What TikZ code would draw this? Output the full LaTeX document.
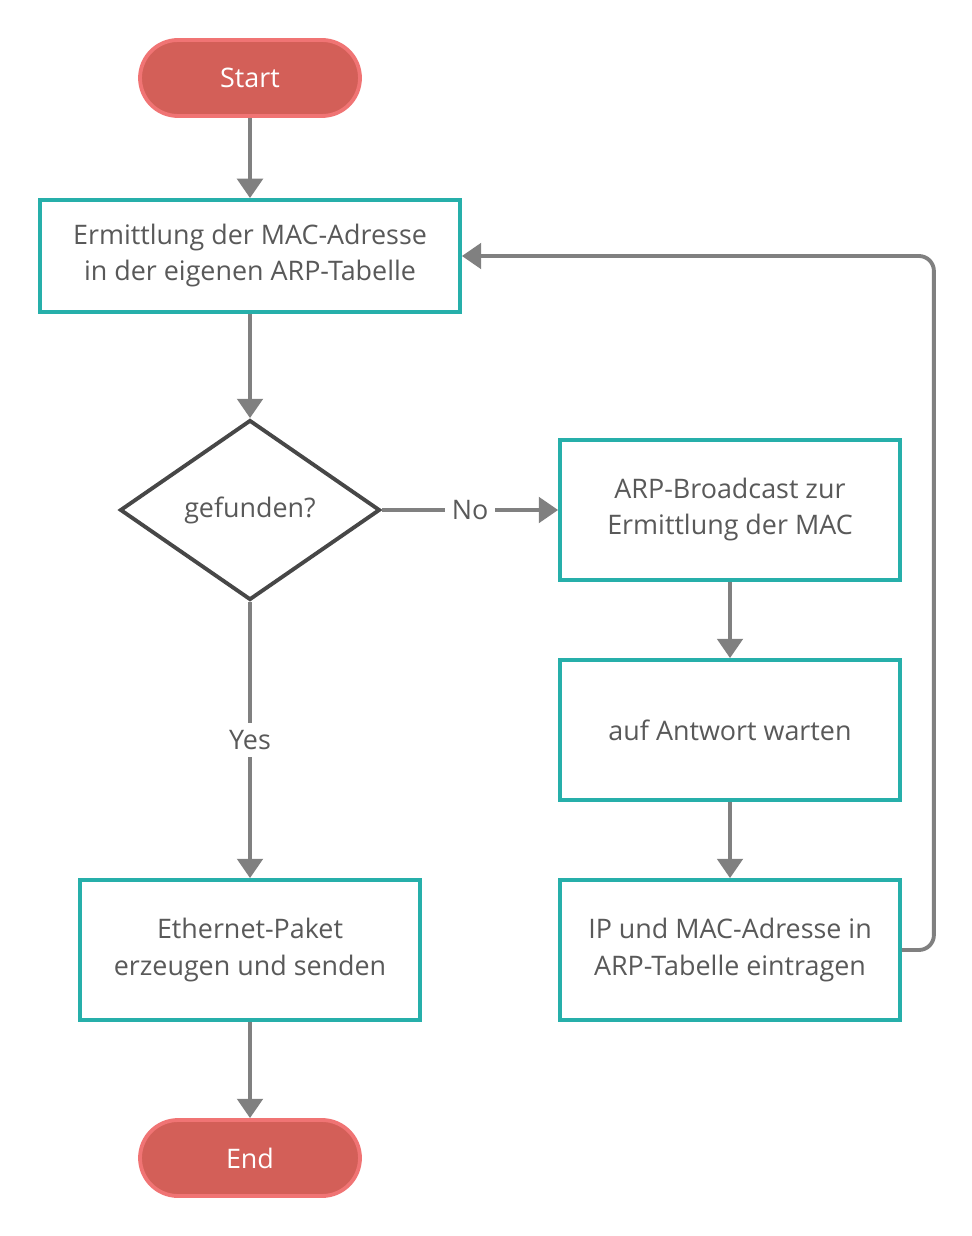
\documentclass[tikz,border=0pt]{standalone}
\usepackage{fontspec}
\setmainfont{Open Sans}
\usetikzlibrary{arrows.meta,shapes.geometric}
\definecolor{boxcol}{HTML}{26AFAA}
\definecolor{startfill}{HTML}{D35F58}
\definecolor{startline}{HTML}{F07474}
\definecolor{linecol}{HTML}{808080}
\definecolor{textcol}{HTML}{595959}
\newcommand{\txtsize}{\fontsize{15.3pt}{20.5pt}\selectfont}

\tikzset{
  boxnode/.style={draw=boxcol, line width=2.2pt, fill=white, text=textcol,
    minimum width=6.8cm, minimum height=2.8cm, align=center, font=\txtsize},
  pill/.style={draw=startline, line width=2.2pt, fill=startfill, text=white,
    rounded corners=0.76cm, minimum width=4.4cm, minimum height=1.52cm, font=\txtsize},
  decide/.style={diamond, draw=black!72, line width=2.2pt, text=textcol,
    minimum width=5.2cm, minimum height=3.6cm, inner sep=0pt, font=\txtsize},
  flow/.style={draw=linecol, line width=2.2pt, -{Triangle[width=14.5pt,length=11pt]}},
  lbl/.style={fill=white, text=textcol, font=\txtsize, inner sep=4pt}
}

\begin{document}
\begin{tikzpicture}[x=0.02cm, y=-0.02cm]

        \useasboundingbox (0, 0) rectangle (972, 1236);

        % linke Spalte
        \node[pill] (start) at (250, 78) {Start};
        \node[boxnode, minimum width=8.4cm, minimum height=2.24cm] (b1) at (250, 256)
            {Ermittlung der MAC-Adresse\\in der eigenen ARP-Tabelle};
        \node[decide] (dia) at (250, 510) {gefunden?};
        \node[boxnode] (b5) at (250, 950) {Ethernet-Paket\\erzeugen und senden};
        \node[pill] (end) at (250, 1158) {End};

        % rechte Spalte
        \node[boxnode] (b2) at (730, 510) {ARP-Broadcast zur\\Ermittlung der MAC};
        \node[boxnode] (b3) at (730, 730) {auf Antwort warten};
        \node[boxnode] (b4) at (730, 950) {IP und MAC-Adresse in\\ARP-Tabelle eintragen};

        % Verbindungen
        \draw[flow] (start) -- (b1);
        \draw[flow] (b1) -- (dia);
        \draw[flow] (dia) -- node[lbl] {No} (b2);
        \draw[flow] (dia) -- node[lbl] {Yes} (b5);
        \draw[flow] (b5) -- (end);
        \draw[flow] (b2) -- (b3);
        \draw[flow] (b3) -- (b4);
        \draw[flow, rounded corners=0.3cm] (b4.east) -- ++(32, 0) |- (b1.east);

  \end{tikzpicture}
\end{document}
